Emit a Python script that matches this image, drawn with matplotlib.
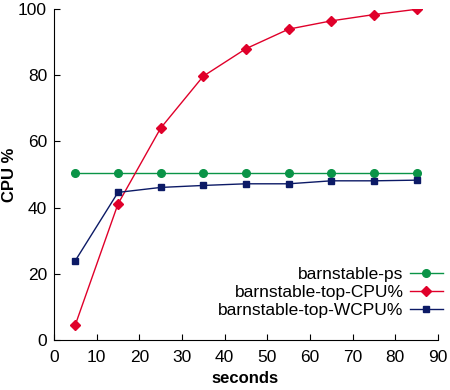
import matplotlib
matplotlib.use("Agg")
import matplotlib.pyplot as plt

seconds = [5, 15, 25, 35, 45, 55, 65, 75, 85]
ps = [50.6, 50.6, 50.6, 50.6, 50.6, 50.6, 50.6, 50.6, 50.6]
top_cpu = [4.6, 41.1, 64.0, 79.7, 88.0, 93.9, 96.4, 98.3, 99.9]
top_wcpu = [24.0, 44.6, 46.1, 46.7, 47.2, 47.2, 48.1, 48.1, 48.3]
labels = ["barnstable-ps", "barnstable-top-CPU%", "barnstable-top-WCPU%"]
xticks = [0, 10, 20, 30, 40, 50, 60, 70, 80, 90]
yticks = [0, 20, 40, 60, 80, 100]

plt.rcParams['font.family'] = ['Liberation Sans', 'DejaVu Sans']

fig = plt.figure(figsize=(4.5, 3.9), dpi=100)
ax = fig.add_axes([0.12, 0.128, 0.853, 0.849])

ax.plot(seconds, ps, color="#0a9447", lw=1.0, marker="o", ms=5.5, label=labels[0])
ax.plot(seconds, top_cpu, color="#e0002a", lw=1.0, marker="D", ms=5, label=labels[1])
ax.plot(seconds, top_wcpu, color="#0c1a66", lw=1.0, marker="s", ms=4.5, label=labels[2])

ax.set_xlim(0, 90)
ax.set_ylim(0, 100)
ax.set_xticks(xticks)
ax.set_yticks(yticks)
ax.spines['top'].set_visible(False)
ax.spines['right'].set_visible(False)
for s in ('left', 'bottom'):
    ax.spines[s].set_linewidth(0.8)
ax.tick_params(direction='in', length=4, width=0.8, labelsize=12.5)
ax.tick_params(axis='x', pad=7)
ax.tick_params(axis='y', pad=5)
ax.set_xlabel("seconds", fontsize=12, fontweight='bold')
ax.set_ylabel("CPU %", fontsize=12, fontweight='bold')
ax.xaxis.set_label_coords(0.497, -0.092)
ax.yaxis.set_label_coords(-0.097, 0.5)

leg = ax.legend(loc='lower right', bbox_to_anchor=(1.04, 0.035), frameon=False,
                markerfirst=False, fontsize=12.5, handlelength=1.9,
                labelspacing=0.16, handletextpad=0.35, borderpad=0.1)

fig.savefig("out.png", dpi=100)
